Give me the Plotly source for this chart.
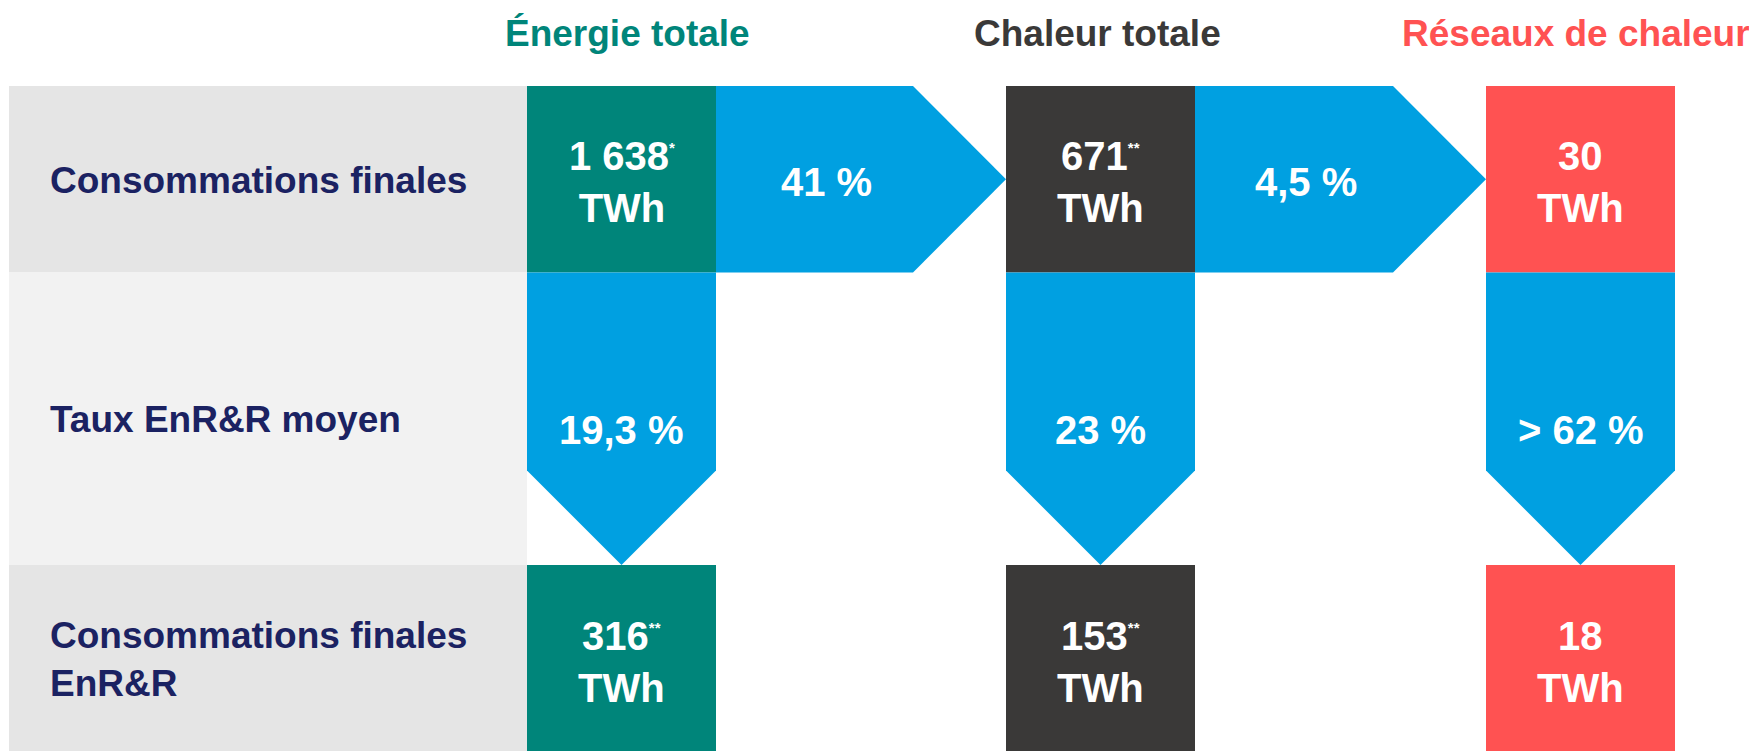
import plotly.graph_objects as go

# ---------------- data ----------------
columns = ["Énergie totale", "Chaleur totale", "Réseaux de chaleur"]
column_colors = ["#00857A", "#3A3938", "#FF5252"]
row_labels = ["Consommations finales", "Taux EnR&R moyen", "Consommations finales<br>EnR&R"]
final_twh = ["1 638", "671", "30"]
final_notes = ["*", "**", ""]
enr_rate = ["19,3 %", "23 %", "> 62 %"]
enr_twh = ["316", "153", "18"]
enr_notes = ["**", "**", ""]
share_between = ["41 %", "4,5 %"]
unit = "TWh"

# ---------------- layout geometry ----------------
W, H = 1757, 751
OFF = 8  # page body margin compensation
col_x0 = [527, 1006, 1486]
col_w = 189
row_y = [86, 272.5, 565, 751]
label_x0 = 9
band_colors = ["#E5E5E5", "#F2F2F2", "#E5E5E5"]
blue = "#00A0E1"
navy = "#1B2262"
head = 93
font_family = "Liberation Sans, Arial, sans-serif"
title_dx = [6, -3, -5]

shapes = []
annotations = []

# grey label bands
for i in range(3):
    shapes.append(dict(type="rect", x0=label_x0, x1=col_x0[0], y0=row_y[i], y1=row_y[i + 1] + (20 if i == 2 else 0),
                       fillcolor=band_colors[i], line=dict(width=0), layer="below"))
    annotations.append(dict(x=48, y=(row_y[i] + row_y[i + 1]) / 2 + 1, xref="x", yref="y",
                            text="<b>" + row_labels[i] + "</b>", showarrow=False,
                            xanchor="left", yanchor="middle", align="left",
                            font=dict(family=font_family, size=37, color=navy)))


def sup(s):
    if not s:
        return ""
    return "<sup><span style='font-size:15px'>" + s + "</span></sup>"


ymid1 = (row_y[0] + row_y[1]) / 2
for j in range(3):
    x0 = col_x0[j]
    x1 = x0 + col_w
    xc = (x0 + x1) / 2
    # top box
    shapes.append(dict(type="rect", x0=x0, x1=x1, y0=row_y[0], y1=row_y[1],
                       fillcolor=column_colors[j], line=dict(width=0), layer="below"))
    # bottom box
    shapes.append(dict(type="rect", x0=x0, x1=x1, y0=row_y[2], y1=row_y[3] + 20,
                       fillcolor=column_colors[j], line=dict(width=0), layer="below"))
    # down arrow
    yh = row_y[2] - head - 1.5
    path = f"M {x0},{row_y[1]} L {x1},{row_y[1]} L {x1},{yh} L {xc},{row_y[2]} L {x0},{yh} Z"
    shapes.append(dict(type="path", path=path, fillcolor=blue, line=dict(width=0), layer="below"))
    # titles
    annotations.append(dict(x=xc + title_dx[j], y=33, xref="x", yref="y",
                            text="<b>" + columns[j] + "</b>", showarrow=False,
                            xanchor="center", yanchor="middle",
                            font=dict(family=font_family, size=37, color=column_colors[j])))
    # top value
    annotations.append(dict(x=xc, y=ymid1 + 3, xref="x", yref="y",
                            text="<b>" + final_twh[j] + sup(final_notes[j]) + "<br>" + unit + "</b>",
                            showarrow=False, xanchor="center", yanchor="middle",
                            font=dict(family=font_family, size=40, color="white")))
    # rate
    annotations.append(dict(x=xc, y=430, xref="x", yref="y",
                            text="<b>" + enr_rate[j] + "</b>", showarrow=False,
                            xanchor="center", yanchor="middle",
                            font=dict(family=font_family, size=40, color="white")))
    # bottom value
    annotations.append(dict(x=xc, y=(row_y[2] + row_y[3]) / 2 + 4, xref="x", yref="y",
                            text="<b>" + enr_twh[j] + sup(enr_notes[j]) + "<br>" + unit + "</b>",
                            showarrow=False, xanchor="center", yanchor="middle",
                            font=dict(family=font_family, size=40, color="white")))

# right arrows between columns
for j in range(2):
    xa = col_x0[j] + col_w
    xb = col_x0[j + 1]
    xh = xb - head
    path = (f"M {xa},{row_y[0]} L {xh},{row_y[0]} L {xb},{ymid1} L {xh},{row_y[1]} "
            f"L {xa},{row_y[1]} Z")
    shapes.append(dict(type="path", path=path, fillcolor=blue, line=dict(width=0), layer="below"))
    annotations.append(dict(x=(xa + xh) / 2 + 12, y=ymid1 + 3, xref="x", yref="y",
                            text="<b>" + share_between[j] + "</b>", showarrow=False,
                            xanchor="center", yanchor="middle",
                            font=dict(family=font_family, size=40, color="white")))

fig = go.Figure()
fig.update_layout(
    width=W - OFF, height=H - OFF,
    margin=dict(l=0, r=0, t=0, b=0),
    paper_bgcolor="white", plot_bgcolor="white",
    xaxis=dict(range=[OFF, W], visible=False, fixedrange=True),
    yaxis=dict(range=[H, OFF], visible=False, fixedrange=True),
    shapes=shapes, annotations=annotations,
    showlegend=False,
)
fig.write_html("out.html", config={"displayModeBar": False})
